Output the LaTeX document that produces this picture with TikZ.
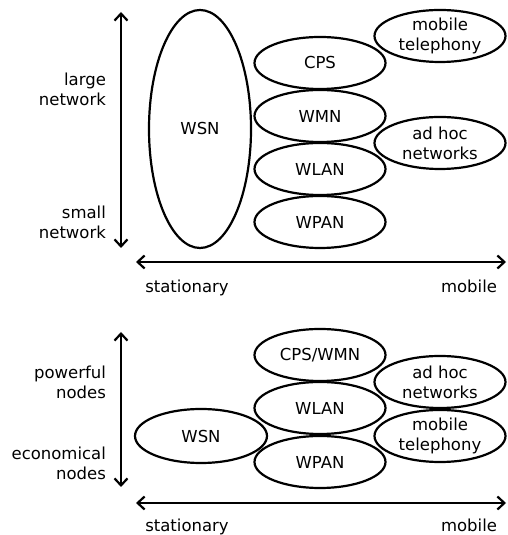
\documentclass[tikz,border=0pt]{standalone}
\usepackage{fontspec}
\setmainfont{DejaVu Sans}
\usetikzlibrary{shapes.geometric,arrows.meta}
\begin{document}
\begin{tikzpicture}[x=1pt, y=1pt, font=\fontsize{16.5}{20}\selectfont, line width=2.2pt, line join=round,
		net/.style={ellipse, draw, minimum width=131pt, minimum height=52pt, inner sep=0pt, align=center},
		axis/.style={{Straight Barb[length=7pt,width=13pt]}-{Straight Barb[length=7pt,width=13pt]}},
		side/.style={anchor=east, align=right, inner sep=0pt}]
	\useasboundingbox (0,0) rectangle (507,535);
	% top: size of the network
	\node[net, minimum width=102pt, minimum height=238pt] (wsnA) at (200,406) {WSN};
	\node[net] (cpsA) at (320,472) {CPS};
	\node[net] (wmnA) at (320,419) {WMN};
	\node[net] (wlanA) at (320,366) {WLAN};
	\node[net] (wpanA) at (320,313) {WPAN};
	\node[net] (mobA) at (440,499) {mobile\\telephony};
	\node[net] (adhocA) at (440,392) {ad hoc\\networks};
	\coordinate (upA) at (121,523);
	\coordinate (downA) at (121,287);
	\coordinate (leftA) at (136,273);
	\coordinate (rightA) at (506,273);
	\draw[axis] (downA) -- (upA);
	\draw[axis] (leftA) -- (rightA);
	\node[side] (largeA) at (107,445.5) {large\\network};
	\node[side] (smallA) at (107,312.5) {small\\network};
	\node[anchor=base] (statA) at (187,242) {stationary};
	\node[anchor=base] (movA) at (469,242) {mobile};
	% bottom: power of the nodes
	\node[net, minimum width=132pt, minimum height=54pt] (wsnB) at (201,99) {WSN};
	\node[net] (cpswmnB) at (320,180) {CPS/WMN};
	\node[net] (wlanB) at (320,127) {WLAN};
	\node[net] (wpanB) at (320,73) {WPAN};
	\node[net] (adhocB) at (440,153) {ad hoc\\networks};
	\node[net] (mobB) at (440,99) {mobile\\telephony};
	\coordinate (upB) at (121,203);
	\coordinate (downB) at (121,48);
	\coordinate (leftB) at (136,32);
	\coordinate (rightB) at (506,32);
	\draw[axis] (downB) -- (upB);
	\draw[axis] (leftB) -- (rightB);
	\node[side] (powB) at (107,153) {powerful\\nodes};
	\node[side] (ecoB) at (107,72) {economical\\nodes};
	\node[anchor=base] (statB) at (187,3) {stationary};
	\node[anchor=base] (movB) at (469,3) {mobile};
\end{tikzpicture}
\end{document}
